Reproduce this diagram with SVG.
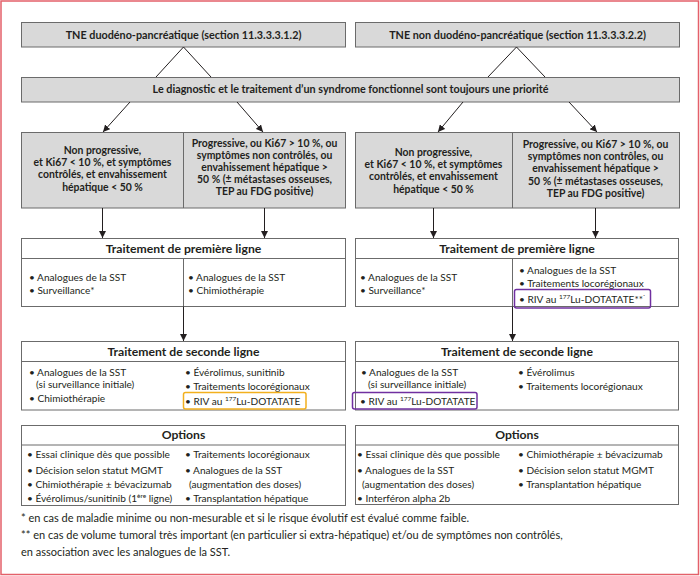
<svg xmlns="http://www.w3.org/2000/svg" width="700" height="576" viewBox="0 0 700 576">
<defs>
<marker id="ah" viewBox="0 0 10 10" refX="10" refY="5" markerWidth="7" markerHeight="7" orient="auto" markerUnits="userSpaceOnUse">
<path d="M0,0 L10,5 L0,10 z" fill="#231f20"/>
</marker>
<style>
.g{fill:#d9d9d9;stroke:#6b6b6b;stroke-width:1}
.w{fill:#ffffff;stroke:#6b6b6b;stroke-width:1}
.d{stroke:#6b6b6b;stroke-width:1;fill:none}
.t{font-family:Lato,"Liberation Sans",sans-serif;font-size:10.1px;fill:#231f20}
.b{font-weight:bold}
.c{text-anchor:middle}
.big{font-size:10.8px}
.cond{font-size:10.4px}
.fn{font-size:11px}
.h{font-family:Lato,"Liberation Sans",sans-serif;font-size:12.2px;font-weight:bold;fill:#231f20;text-anchor:middle}
.con{stroke:#231f20;stroke-width:1;fill:none}
.sup{font-size:6.5px}
</style>
</defs>
<rect x="0" y="0" width="700" height="576" fill="#ffffff"/>
<rect x="1" y="1" width="697.5" height="573.5" fill="none" stroke="#e4606a" stroke-width="1.5"/>

<g id="top-left">
<rect class="g" x="21.5" y="22.5" width="324" height="24.5"/>
<text class="t b c big" x="183.5" y="38.5">TNE duodéno-pancréatique (section 11.3.3.3.1.2)</text>
</g>
<g id="top-right">
<rect class="g" x="355.5" y="22.5" width="324" height="24.5"/>
<text class="t b c big" x="517.5" y="38.5">TNE non duodéno-pancréatique (section 11.3.3.3.2.2)</text>
</g>
<g id="priority">
<rect class="g" x="21.5" y="77.5" width="658" height="24.5"/>
<text class="t b c big" x="350.5" y="93">Le diagnostic et le traitement d’un syndrome fonctionnel sont toujours une priorité</text>
</g>

<g id="cond-left">
<rect class="g" x="21.5" y="132.5" width="324" height="75.5"/>
<line class="d" x1="183.5" y1="132.5" x2="183.5" y2="208"/>
<text class="t b c cond" x="102.5"><tspan x="102.5" y="154">Non progressive,</tspan><tspan x="102.5" y="166.2">et Ki67 &lt; 10 %, et symptômes</tspan><tspan x="102.5" y="178.4">contrôlés, et envahissement</tspan><tspan x="102.5" y="190.6">hépatique &lt; 50 %</tspan></text>
<text class="t b c cond" x="264.5"><tspan x="264.5" y="146.5">Progressive, ou Ki67 &gt; 10 %, ou</tspan><tspan x="264.5" y="158.7">symptômes non contrôlés, ou</tspan><tspan x="264.5" y="170.9">envahissement hépatique &gt;</tspan><tspan x="264.5" y="183.1">50 % (± métastases osseuses,</tspan><tspan x="264.5" y="195.3">TEP au FDG positive)</tspan></text>
</g>
<g id="cond-right">
<rect class="g" x="355.5" y="132.5" width="324" height="75.5"/>
<line class="d" x1="512.5" y1="132.5" x2="512.5" y2="208"/>
<text class="t b c cond" x="433.5"><tspan x="433.5" y="156">Non progressive,</tspan><tspan x="433.5" y="168.2">et Ki67 &lt; 10 %, et symptômes</tspan><tspan x="433.5" y="180.4">contrôlés, et envahissement</tspan><tspan x="433.5" y="192.6">hépatique &lt; 50 %</tspan></text>
<text class="t b c cond" x="595.5"><tspan x="595.5" y="148">Progressive, ou Ki67 &gt; 10 %, ou</tspan><tspan x="595.5" y="160.2">symptômes non contrôles, ou</tspan><tspan x="595.5" y="172.4">envahissement hépatique &gt;</tspan><tspan x="595.5" y="184.6">50 % (± métastases osseuses,</tspan><tspan x="595.5" y="196.8">TEP au FDG positive)</tspan></text>
</g>

<g id="first-left">
<rect class="w" x="21.5" y="238.5" width="324" height="68"/>
<line class="d" x1="21.5" y1="258.5" x2="345.5" y2="258.5"/>
<line class="d" x1="183.5" y1="258.5" x2="183.5" y2="306.5"/>
<text class="h" x="183.5" y="252.5">Traitement de première ligne</text>
<text class="t" x="29" y="280.5">• Analogues de la SST</text>
<text class="t" x="29" y="293.5">• Surveillance*</text>
<text class="t" x="188" y="280.5">• Analogues de la SST</text>
<text class="t" x="188" y="293.5">• Chimiothérapie</text>
</g>
<g id="first-right">
<rect class="w" x="355.5" y="238.5" width="323" height="68"/>
<line class="d" x1="355.5" y1="258.5" x2="678.5" y2="258.5"/>
<line class="d" x1="512.5" y1="258.5" x2="512.5" y2="306.5"/>
<text class="h" x="517" y="252.5">Traitement de première ligne</text>
<text class="t" x="360" y="280.5">• Analogues de la SST</text>
<text class="t" x="360" y="293.5">• Surveillance*</text>
<text class="t" x="519" y="273.5">• Analogues de la SST</text>
<text class="t" x="519" y="286.5">• Traitements locorégionaux</text>
<text class="t" x="519" y="302.5">• RIV au <tspan class="sup" dy="-3.5">177</tspan><tspan dy="3.5">Lu-DOTATATE**</tspan><tspan class="sup" dy="-3.5">`</tspan></text>
<rect x="514.5" y="289.5" width="136" height="18.5" rx="2" fill="none" stroke="#7030a0" stroke-width="1.5"/>
</g>

<g id="second-left">
<rect class="w" x="21.5" y="341.5" width="324" height="68.5"/>
<line class="d" x1="21.5" y1="361.5" x2="345.5" y2="361.5"/>
<text class="h" x="183.5" y="355.5">Traitement de seconde ligne</text>
<text class="t" x="29" y="375.5">• Analogues de la SST</text>
<text class="t" x="36" y="388">(si surveillance initiale)</text>
<text class="t" x="29" y="401.5">• Chimiothérapie</text>
<text class="t" x="185" y="375.5">• Évérolimus, sunitinib</text>
<text class="t" x="185" y="389.5">• Traitements locorégionaux</text>
<text class="t" x="185" y="404.5">• RIV au <tspan class="sup" dy="-3.5">177</tspan><tspan dy="3.5">Lu-DOTATATE</tspan></text>
<rect x="183.5" y="392.5" width="122.5" height="16.5" rx="2" fill="none" stroke="#f2b01e" stroke-width="1.5"/>
</g>
<g id="second-right">
<rect class="w" x="355.5" y="341.5" width="323" height="68.5"/>
<line class="d" x1="355.5" y1="361.5" x2="678.5" y2="361.5"/>
<text class="h" x="517" y="355.5">Traitement de seconde ligne</text>
<text class="t" x="361" y="375.5">• Analogues de la SST</text>
<text class="t" x="368" y="388">(si surveillance initiale)</text>
<text class="t" x="360" y="404.5">• RIV au <tspan class="sup" dy="-3.5">177</tspan><tspan dy="3.5">Lu-DOTATATE</tspan></text>
<text class="t" x="518" y="375.5">• Évérolimus</text>
<text class="t" x="518" y="389.5">• Traitements locorégionaux</text>
<rect x="352.5" y="392.5" width="124.5" height="16.5" rx="2" fill="none" stroke="#7030a0" stroke-width="1.5"/>
</g>

<g id="options-left">
<rect class="w" x="21.5" y="425.5" width="324" height="80"/>
<line class="d" x1="21.5" y1="445" x2="345.5" y2="445"/>
<text class="h" x="183.5" y="438.5">Options</text>
<text class="t" x="27" y="457.5">• Essai clinique dès que possible</text>
<text class="t" x="27" y="473.5">• Décision selon statut MGMT</text>
<text class="t" x="27" y="487.5">• Chimiothérapie ± bévacizumab</text>
<text class="t" x="27" y="501.5">• Évérolimus/sunitinib (1<tspan class="sup" dy="-3.5">ère</tspan><tspan dy="3.5"> ligne)</tspan></text>
<text class="t" x="185" y="457.5">• Traitements locorégionaux</text>
<text class="t" x="185" y="473.5">• Analogues de la SST</text>
<text class="t" x="189" y="487.5">(augmentation des doses)</text>
<text class="t" x="185" y="501.5">• Transplantation hépatique</text>
</g>
<g id="options-right">
<rect class="w" x="355.5" y="425.5" width="323" height="79"/>
<line class="d" x1="355.5" y1="445" x2="678.5" y2="445"/>
<text class="h" x="517" y="438.5">Options</text>
<text class="t" x="357" y="457.5">• Essai clinique dès que possible</text>
<text class="t" x="357" y="473.5">• Analogues de la SST</text>
<text class="t" x="362" y="487.5">(augmentation des doses)</text>
<text class="t" x="357" y="501.5">• Interféron alpha 2b</text>
<text class="t" x="518" y="457.5">• Chimiothérapie ± bévacizumab</text>
<text class="t" x="518" y="473.5">• Décision selon statut MGMT</text>
<text class="t" x="518" y="487.5">• Transplantation hépatique</text>
</g>

<g id="footnotes">
<text class="t fn" x="21" y="522">* en cas de maladie minime ou non-mesurable et si le risque évolutif est évalué comme faible.</text>
<text class="t fn" x="21" y="539">** en cas de volume tumoral très important (en particulier si extra-hépatique) et/ou de symptômes non contrôlés,</text>
<text class="t fn" x="21" y="556">en association avec les analogues de la SST.</text>
</g>

<g id="connectors">
<polyline class="con" points="156,77 183.5,47 211,77"/>
<polyline class="con" points="488,77 516.5,47 545,77"/>
<line class="con" x1="130" y1="102" x2="103" y2="132" marker-end="url(#ah)"/>
<line class="con" x1="237" y1="102" x2="263" y2="132" marker-end="url(#ah)"/>
<line class="con" x1="463" y1="102" x2="438" y2="132" marker-end="url(#ah)"/>
<line class="con" x1="569" y1="102" x2="597" y2="132" marker-end="url(#ah)"/>
<line class="con" x1="102.5" y1="208" x2="102.5" y2="238" marker-end="url(#ah)"/>
<line class="con" x1="264.5" y1="208" x2="264.5" y2="238" marker-end="url(#ah)"/>
<line class="con" x1="433.5" y1="208" x2="433.5" y2="238" marker-end="url(#ah)"/>
<line class="con" x1="595.5" y1="208" x2="595.5" y2="238" marker-end="url(#ah)"/>
<line class="con" x1="183.5" y1="306.5" x2="183.5" y2="341" marker-end="url(#ah)"/>
<line class="con" x1="512.5" y1="306.5" x2="512.5" y2="341" marker-end="url(#ah)"/>
</g>
</svg>
